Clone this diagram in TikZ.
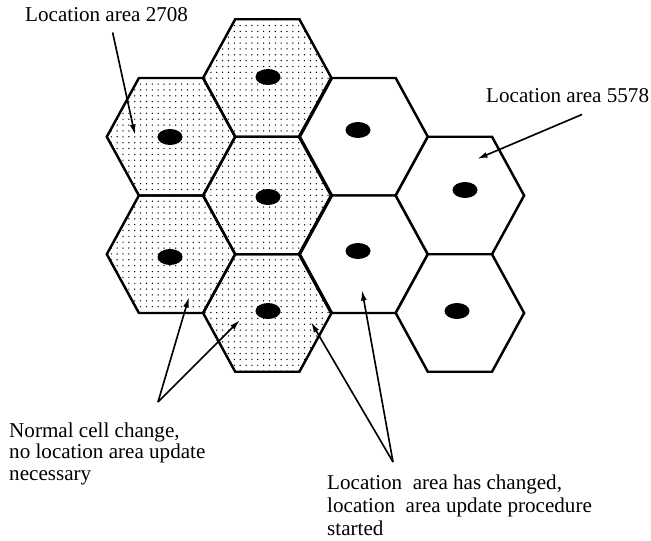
\documentclass[tikz,border=0pt]{standalone}
\usepackage{fontspec}
\setmainfont{Liberation Serif}
\usetikzlibrary{arrows.meta,patterns.meta}

% one flat-topped cell, centre given in picture units
\newcommand{\hexcell}[3]{%
  \draw[#1] (#2+64.2,#3) -- ++(-32.1,58.75) -- ++(-64.2,0) -- ++(-32.1,-58.75)
    -- ++(32.1,-58.75) -- ++(64.2,0) -- cycle;}

\begin{document}
\begin{tikzpicture}[x=0.03cm, y=-0.03cm,
  cell/.style={draw=black, line width=2.1pt, line join=miter},
  oldarea/.style={cell, pattern={Dots[distance=5pt,radius=0.62pt]}},
  newarea/.style={cell, fill=white},
  border/.style={line width=2.8pt, line join=miter},
  station/.style={fill=black},
  pointer/.style={line width=1.4pt, -{Latex[length=9pt,width=5pt]}},
  caption/.style={font=\fontsize{18}{18}\selectfont, inner sep=0pt, align=left}
]
\useasboundingbox (0,0) rectangle (651,541);

% location area 2708 (dotted)
\foreach \cx/\cy in {171/136.75, 171/254.25, 267.3/78, 267.3/195.5, 267.3/313}
  {\hexcell{oldarea}{\cx}{\cy}}
% location area 5578
\foreach \cx/\cy in {363.6/136.75, 363.6/254.25, 459.9/195.5, 459.9/313}
  {\hexcell{newarea}{\cx}{\cy}}
\draw[border] (331.5,78) -- (299.4,136.75) -- (331.5,195.5) -- (299.4,254.25) -- (331.5,313);

% base stations
\foreach \sx/\sy in {170/137, 170/257, 268/77, 268/197, 268/311,
                     358/130, 358/251, 465/190, 457/311}
  \fill[station] (\sx,\sy) ellipse [x radius=12.5, y radius=8];

% labels
\node[caption, anchor=base west] (la2708) at (25,22) {Location area 2708};
\node[caption, anchor=base west] (la5578) at (486,103) {Location area 5578};
\node[caption, anchor=north west] (normal) at (9,423)
  {Normal cell change,\\no location area update\\necessary};
\node[caption, anchor=north west, font=\fontsize{18}{19.3}\selectfont] (changed) at (327,475)
  {Location\ \ area has changed,\\location\ \ area update procedure\\started};

% arrow targets
\coordinate (in2708) at (135,135);
\coordinate (in5578) at (477,159);
\coordinate (oldA) at (189,297);
\coordinate (oldB) at (240,320);
\coordinate (newA) at (311,322);
\coordinate (newB) at (362,290);

\draw[pointer] ([shift={(6,10)}]la2708.south) -- (in2708);
\draw[pointer] ([shift={(14.5,11)}]la5578.south) -- (in5578);
\draw[pointer] ([shift={(149,-21)}]normal.north west) -- (oldA);
\draw[pointer] ([shift={(149,-21)}]normal.north west) -- (oldB);
\draw[pointer] ([shift={(66,-13)}]changed.north west) -- (newA);
\draw[pointer] ([shift={(66,-13)}]changed.north west) -- (newB);
\end{tikzpicture}
\end{document}
